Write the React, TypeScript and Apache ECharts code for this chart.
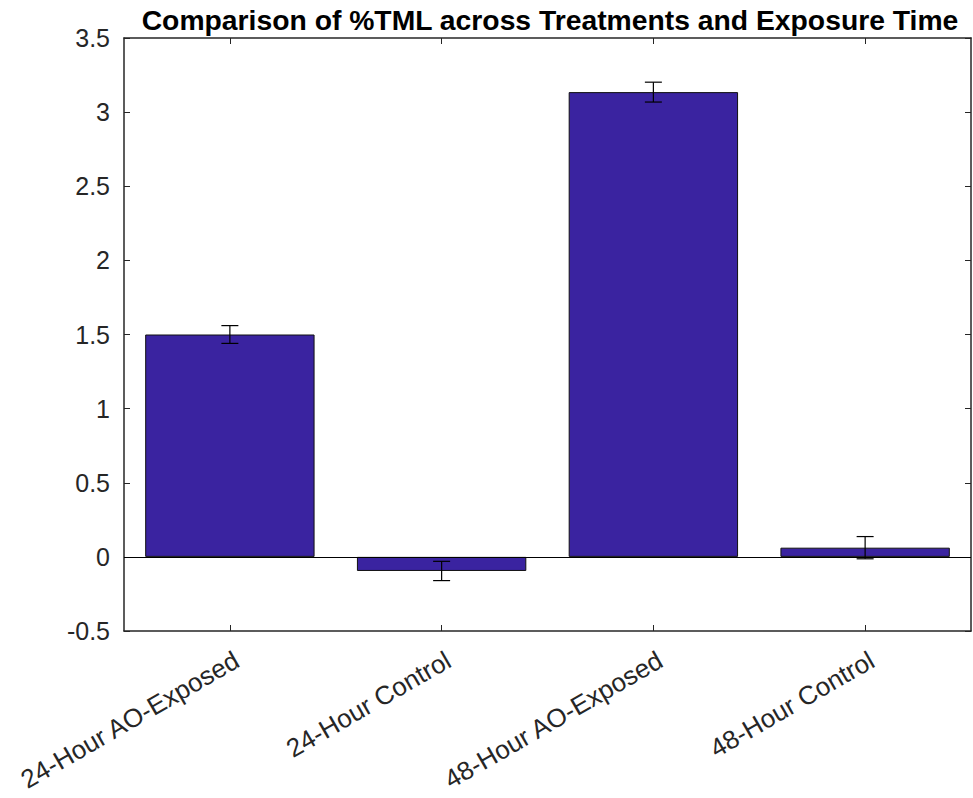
import React, { useEffect, useRef } from "react";
import * as echarts from "echarts";

const categories = ["24-Hour AO-Exposed", "24-Hour Control", "48-Hour AO-Exposed", "48-Hour Control"];
const meanValues = [1.5, -0.095, 3.135, 0.062];
const errorValues = [0.06, 0.065, 0.067, 0.075];
const titleText = "Comparison of %TML across Treatments and Exposure Time";

const FONT = "'Liberation Sans', Arial, Helvetica, sans-serif";
const AXIS_COLOR = "#262626";

export default function App() {
  const ref = useRef<HTMLDivElement>(null);
  useEffect(() => {
    if (!ref.current) return;
    const chart = echarts.init(ref.current, undefined, { renderer: "svg" });
    const errData = categories.map((c, i) => [i, meanValues[i] - errorValues[i], meanValues[i] + errorValues[i]]);
    const tickCommon = { show: true, inside: true, length: 6, alignWithLabel: true, lineStyle: { color: AXIS_COLOR, width: 1 } };
    chart.setOption({
      animation: false,
      backgroundColor: "#ffffff",
      title: {
        text: titleText,
        left: 545,
        textAlign: "center",
        top: 1,
        textStyle: { fontFamily: FONT, fontWeight: "bold", fontSize: 28.3, color: "#000000" },
      },
      grid: { left: 124, right: 2, top: 38, bottom: 167, containLabel: false },
      xAxis: [
        {
          type: "category",
          data: categories,
          position: "bottom",
          boundaryGap: true,
          axisLine: { show: true, onZero: false, lineStyle: { color: AXIS_COLOR, width: 1.5 } },
          axisTick: tickCommon,
          axisLabel: {
            rotate: 30,
            interval: 0,
            margin: 31,
            padding: [0, -8, 0, 0],
            fontFamily: FONT,
            fontSize: 26,
            color: AXIS_COLOR,
          },
          splitLine: { show: false },
        },
        {
          type: "category",
          data: categories,
          position: "top",
          boundaryGap: true,
          axisLine: { show: true, onZero: false, lineStyle: { color: AXIS_COLOR, width: 1.5 } },
          axisTick: tickCommon,
          axisLabel: { show: false },
          splitLine: { show: false },
        },
      ],
      yAxis: [
        {
          type: "value",
          min: -0.5,
          max: 3.5,
          interval: 0.5,
          position: "left",
          axisLine: { show: true, onZero: false, lineStyle: { color: AXIS_COLOR, width: 1.5 } },
          axisTick: { show: true, inside: true, length: 6, lineStyle: { color: AXIS_COLOR } },
          axisLabel: { fontFamily: FONT, fontSize: 25, color: AXIS_COLOR, margin: 14 },
          splitLine: { show: false },
        },
        {
          type: "value",
          min: -0.5,
          max: 3.5,
          interval: 0.5,
          position: "right",
          axisLine: { show: true, onZero: false, lineStyle: { color: AXIS_COLOR, width: 1.5 } },
          axisTick: { show: true, inside: true, length: 6, lineStyle: { color: AXIS_COLOR } },
          axisLabel: { show: false },
          splitLine: { show: false },
        },
      ],
      series: [
        {
          type: "bar",
          data: meanValues,
          barWidth: "80%",
          xAxisIndex: 0,
          yAxisIndex: 0,
          itemStyle: { color: "#3A23A0", borderColor: "#111111", borderWidth: 1 },
          markLine: {
            silent: true,
            symbol: "none",
            label: { show: false },
            lineStyle: { color: "#000000", width: 1, type: "solid" },
            data: [{ yAxis: 0 }],
          },
          z: 2,
        },
        {
          type: "custom",
          xAxisIndex: 0,
          yAxisIndex: 0,
          data: errData,
          z: 5,
          renderItem: (params: any, api: any) => {
            const x = api.value(0);
            const lo = api.coord([x, api.value(1)]);
            const hi = api.coord([x, api.value(2)]);
            const half = 8.5;
            const style = { stroke: "#000000", lineWidth: 1.2 };
            return {
              type: "group",
              children: [
                { type: "line", shape: { x1: hi[0], y1: hi[1], x2: lo[0], y2: lo[1] }, style },
                { type: "line", shape: { x1: hi[0] - half, y1: hi[1], x2: hi[0] + half, y2: hi[1] }, style },
                { type: "line", shape: { x1: lo[0] - half, y1: lo[1], x2: lo[0] + half, y2: lo[1] }, style },
              ],
            };
          },
        },
      ],
    });
    return () => chart.dispose();
  }, []);
  return <div ref={ref} style={{ position: "fixed", left: 0, top: 0, width: 973, height: 798 }} />;
}
